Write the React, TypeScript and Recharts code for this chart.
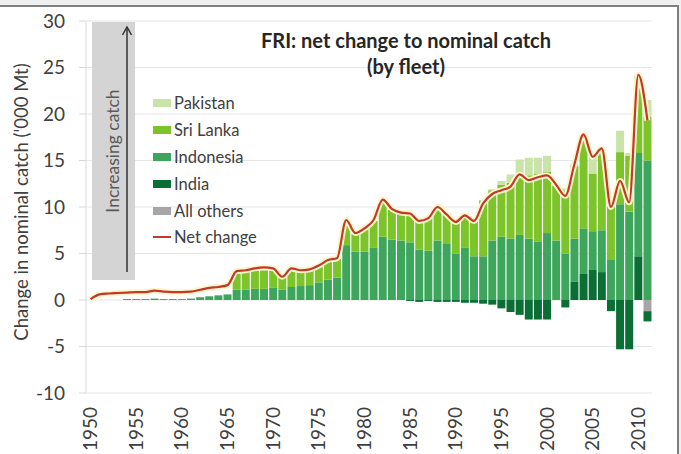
import React from 'react';
import { ComposedChart, Bar, Line, XAxis, YAxis, CartesianGrid, Legend } from 'recharts';

const FONT = 'Lato, "Open Sans", sans-serif';

const years = [
  1950, 1951, 1952, 1953, 1954, 1955, 1956, 1957, 1958, 1959,
  1960, 1961, 1962, 1963, 1964, 1965, 1966, 1967, 1968, 1969,
  1970, 1971, 1972, 1973, 1974, 1975, 1976, 1977, 1978, 1979,
  1980, 1981, 1982, 1983, 1984, 1985, 1986, 1987, 1988, 1989,
  1990, 1991, 1992, 1993, 1994, 1995, 1996, 1997, 1998, 1999,
  2000, 2001, 2002, 2003, 2004, 2005, 2006, 2007, 2008, 2009,
  2010, 2011,
];

// '000 Mt
const pakistan = [
  0, 0, 0, 0, 0, 0, 0, 0, 0, 0,
  0, 0, 0, 0, 0, 0, 0, 0, 0, 0,
  0, 0, 0, 0, 0, 0, 0, 0, 0, 0,
  0, 0, 0, 0, 0, 0, 0, 0, 0, 0,
  0, 0, 0, 0, 0.1, 0.4, 0.9, 1.9, 1.9, 1.7,
  1.7, 0.2, 0.2, 0.2, 0.3, 1.8, 0.4, 0.2, 2.3, 0.3,
  0.2, 1.8,
];

const sriLanka = [
  0, 0, 0, 0, 0, 0, 0, 0, 0, 0,
  0, 0, 0, 0, 0, 0, 1.8, 2.0, 2.1, 2.2,
  2.0, 1.3, 1.9, 1.6, 1.6, 1.7, 2.0, 2.0, 2.6, 1.9,
  2.4, 2.9, 3.9, 3.2, 2.9, 3.1, 3.2, 3.5, 3.5, 3.2,
  3.5, 3.7, 4.0, 6.0, 5.4, 5.6, 6.0, 6.2, 6.8, 7.3,
  6.6, 5.9, 6.8, 7.8, 9.8, 6.2, 8.3, 6.7, 5.6, 6.0,
  8.2, 4.7,
];

const indonesia = [
  0, 0, 0, 0, 0.1, 0.1, 0.1, 0.15, 0.1, 0.1,
  0.1, 0.15, 0.3, 0.4, 0.5, 0.6, 1.1, 1.1, 1.2, 1.2,
  1.3, 1.1, 1.4, 1.5, 1.6, 1.9, 2.2, 2.4, 5.9, 5.2,
  5.2, 5.6, 6.8, 6.5, 6.4, 6.2, 5.4, 5.3, 6.4, 6.1,
  5.0, 5.6, 4.7, 4.7, 6.4, 6.8, 6.6, 7.0, 6.6, 6.3,
  7.2, 6.4, 5.0, 4.6, 4.9, 4.1, 4.5, 4.3, 10.3, 9.5,
  11.1, 15.0,
];

const india = [
  0, 0, 0, 0, 0, 0, 0, 0, 0, 0,
  0, 0, 0, 0, 0, 0, 0, 0, 0, 0,
  0, 0, 0, 0, 0, 0, 0, 0, 0, 0,
  0, 0, 0, 0, 0, -0.1, -0.2, -0.1, -0.2, -0.2,
  -0.2, -0.3, -0.3, -0.4, -0.5, -0.9, -1.3, -1.6, -2.1, -2.1,
  -2.1, 0, -0.8, 2.0, 2.8, 3.3, 3.0, -1.2, -5.3, -5.3,
  4.7, -1.1,
];

const allOthers = [
  0, 0, 0, 0, 0, 0, 0, 0, 0, 0,
  0, 0, 0, 0, 0, 0, 0, 0, 0, 0,
  0, 0, 0, 0, 0, 0, 0, 0, 0, 0,
  0, 0, 0, 0, 0, 0, 0, 0, 0, 0,
  0, 0, 0, 0, 0, 0, 0, 0, 0, 0,
  0, 0, 0, 0, 0, 0, 0, 0, 0, 0,
  0, -1.2,
];

const netChange = [
  0.1, 0.6, 0.7, 0.75, 0.8, 0.85, 0.85, 1.0, 0.9, 0.85,
  0.85, 0.9, 1.1, 1.3, 1.4, 1.6, 3.1, 3.2, 3.4, 3.5,
  3.4, 2.5, 3.4, 3.2, 3.3, 3.7, 4.3, 4.5, 8.6, 7.2,
  7.7, 8.6, 10.8, 9.8, 9.4, 9.3, 8.5, 8.8, 10.0, 9.2,
  8.4, 9.1, 8.5, 10.4, 11.4, 11.8, 12.2, 13.5, 12.9, 13.2,
  13.4, 12.4, 11.2, 14.6, 17.8, 15.4, 16.3, 10.0, 12.8, 10.5,
  24.2, 19.3,
];

const yTicks = [-10, -5, 0, 5, 10, 15, 20, 25, 30];

const data = years.map((year, i) => ({
  year,
  others: allOthers[i],
  india: india[i],
  indonesia: indonesia[i],
  sriLanka: sriLanka[i],
  pakistan: pakistan[i],
  net: netChange[i],
}));

const COLORS = {
  pakistan: '#c9e3a8',
  sriLanka: '#7dc42a',
  indonesia: '#3ea65c',
  india: '#0b6e35',
  others: '#a6a6a6',
  net: '#c0392b',
};

const legendItems = [
  { name: 'Pakistan', color: COLORS.pakistan, line: false },
  { name: 'Sri Lanka', color: COLORS.sriLanka, line: false },
  { name: 'Indonesia', color: COLORS.indonesia, line: false },
  { name: 'India', color: COLORS.india, line: false },
  { name: 'All others', color: COLORS.others, line: false },
  { name: 'Net change', color: COLORS.net, line: true },
];

const LegendBox = () => (
  <div style={{ fontFamily: FONT, fontSize: 16.5, color: '#404040' }}>
    {legendItems.map((item) => (
      <div key={item.name} style={{ display: 'flex', alignItems: 'center', height: 26.8 }}>
        <span
          style={{
            display: 'inline-block',
            width: 18,
            height: item.line ? 2 : 8,
            background: item.color,
            marginRight: 3,
          }}
        />
        <span>{item.name}</span>
      </div>
    ))}
  </div>
);

const YearTick = (props: any) => {
  const { x, y, payload } = props;
  return (
    <text
      x={x}
      y={y}
      transform={`rotate(-90, ${x}, ${y})`}
      textAnchor="end"
      dy="0.35em"
      fontSize={19}
      fill="#404040"
      fontFamily={FONT}
    >
      {payload.value}
    </text>
  );
};

export default function App() {
  return (
    <div style={{ position: 'absolute', left: 0, top: 0, width: 681, height: 454, background: '#f0f0f0', overflow: 'hidden' }}>
      <div
        style={{
          position: 'absolute',
          left: 0,
          top: 5,
          width: 679,
          height: 449,
          background: '#fff',
          borderTop: '2px solid #808080',
          borderRight: '2px solid #808080',
          boxSizing: 'border-box',
        }}
      />
      <div style={{ position: 'absolute', left: 0, top: 0 }}>
        <ComposedChart
          width={681}
          height={454}
          data={data}
          margin={{ top: 21, right: 29, bottom: 0, left: 0 }}
          stackOffset="sign"
          barCategoryGap={0.6}
        >
          <CartesianGrid vertical={false} stroke="#e6e6e6" />
          <XAxis
            dataKey="year"
            interval={4}
            tickLine={false}
            axisLine={false}
            tickSize={0}
            tickMargin={14}
            height={61}
            tick={(p: any) => <YearTick {...p} />}
          />
          <YAxis
            domain={[-10, 30]}
            ticks={yTicks}
            width={86}
            stroke="#d9d9d9"
            tickSize={7}
            tickMargin={14}
            tick={{ fontSize: 19, fill: '#404040', fontFamily: FONT }}
          />
          <Legend
            layout="vertical"
            align="center"
            verticalAlign="middle"
            wrapperStyle={{ left: 153, top: 90, width: 'auto' }}
            content={() => <LegendBox />}
          />
          <Bar dataKey="others" name="All others" stackId="a" fill={COLORS.others} isAnimationActive={false} />
          <Bar dataKey="india" name="India" stackId="a" fill={COLORS.india} isAnimationActive={false} />
          <Bar dataKey="indonesia" name="Indonesia" stackId="a" fill={COLORS.indonesia} isAnimationActive={false} />
          <Bar dataKey="sriLanka" name="Sri Lanka" stackId="a" fill={COLORS.sriLanka} isAnimationActive={false} />
          <Bar dataKey="pakistan" name="Pakistan" stackId="a" fill={COLORS.pakistan} isAnimationActive={false} />
          <Line
            type="monotone"
            dataKey="net"
            stroke="#fdf6c8"
            strokeWidth={6}
            dot={false}
            legendType="none"
            isAnimationActive={false}
          />
          <Line
            type="monotone"
            dataKey="net"
            name="Net change"
            stroke={COLORS.net}
            strokeWidth={2.2}
            dot={false}
            isAnimationActive={false}
          />
        </ComposedChart>
      </div>
      <svg width={681} height={454} style={{ position: 'absolute', left: 0, top: 0, pointerEvents: 'none' }}>
        <rect x={92} y={22} width={43} height={258} fill="#d4d4d4" />
        <line x1={127} y1={272} x2={127} y2={28} stroke="#333" strokeWidth={1.5} />
        <polyline points="122.5,35 127,27 131.5,35" fill="none" stroke="#333" strokeWidth={1.5} />
        <text
          x={112}
          y={151}
          transform="rotate(-90, 112, 151)"
          textAnchor="middle"
          dominantBaseline="central"
          fontSize={17.5}
          fill="#595959"
          fontFamily={FONT}
        >
          Increasing catch
        </text>
        <text x={406} y={48} textAnchor="middle" fontSize={20} fontWeight="bold" fill="#262626" fontFamily={FONT}>
          FRI: net change to nominal catch
        </text>
        <text x={406} y={74} textAnchor="middle" fontSize={20} fontWeight="bold" fill="#262626" fontFamily={FONT}>
          (by fleet)
        </text>
        <text
          x={21}
          y={202}
          transform="rotate(-90, 21, 202)"
          textAnchor="middle"
          dominantBaseline="central"
          fontSize={18.5}
          fill="#404040"
          fontFamily={FONT}
        >
          Change in nominal catch ('000 Mt)
        </text>
      </svg>
    </div>
  );
}
